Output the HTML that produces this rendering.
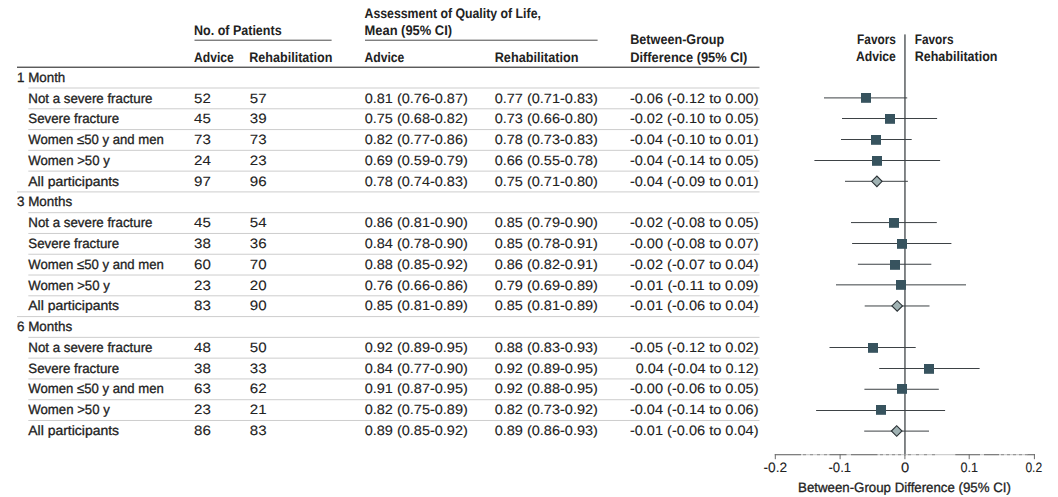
<!DOCTYPE html>
<html><head><meta charset="utf-8"><title>Forest plot</title>
<style>html,body{margin:0;padding:0;background:#fff}svg{display:block}.n{stroke:#222;stroke-width:.3px}.d{stroke:#222;stroke-width:.1px}</style></head>
<body>
<svg width="1058" height="497" viewBox="0 0 1058 497" font-family="'Liberation Sans', sans-serif" fill="#222" text-rendering="geometricPrecision">
<rect width="1058" height="497" fill="#fff"/>
<text x="194.0" y="34.8" font-size="13.8" font-weight="bold" textLength="87.6" lengthAdjust="spacingAndGlyphs">No. of Patients</text>
<text x="364.5" y="17.6" font-size="13.8" font-weight="bold" textLength="176.4" lengthAdjust="spacingAndGlyphs">Assessment of Quality of Life,</text>
<text x="364.5" y="34.8" font-size="13.8" font-weight="bold" textLength="87.6" lengthAdjust="spacingAndGlyphs">Mean (95% CI)</text>
<text x="194.0" y="61.6" font-size="13.8" font-weight="bold" textLength="39.8" lengthAdjust="spacingAndGlyphs">Advice</text>
<text x="249.3" y="61.6" font-size="13.8" font-weight="bold" textLength="83.1" lengthAdjust="spacingAndGlyphs">Rehabilitation</text>
<text x="364.5" y="61.6" font-size="13.8" font-weight="bold" textLength="39.8" lengthAdjust="spacingAndGlyphs">Advice</text>
<text x="494.7" y="61.6" font-size="13.8" font-weight="bold" textLength="83.8" lengthAdjust="spacingAndGlyphs">Rehabilitation</text>
<text x="630.2" y="43.6" font-size="13.8" font-weight="bold" textLength="94.1" lengthAdjust="spacingAndGlyphs">Between-Group</text>
<text x="630.2" y="61.6" font-size="13.8" font-weight="bold" textLength="117.2" lengthAdjust="spacingAndGlyphs">Difference (95% CI)</text>
<text x="857.1" y="43.6" font-size="13.8" font-weight="bold" textLength="38.8" lengthAdjust="spacingAndGlyphs">Favors</text>
<text x="855.9" y="60.9" font-size="13.8" font-weight="bold" textLength="40.0" lengthAdjust="spacingAndGlyphs">Advice</text>
<text x="914.7" y="43.6" font-size="13.8" font-weight="bold" textLength="38.8" lengthAdjust="spacingAndGlyphs">Favors</text>
<text x="914.7" y="60.9" font-size="13.8" font-weight="bold" textLength="82.8" lengthAdjust="spacingAndGlyphs">Rehabilitation</text>
<rect x="194.5" y="39.7" width="137.1" height="1" fill="#4a4a4a"/>
<rect x="365" y="39.7" width="232.6" height="1" fill="#4a4a4a"/>
<rect x="17" y="66.6" width="742.5" height="1.3" fill="#4a4a4a"/>
<rect x="28.3" y="87.50" width="731.2" height="1" fill="#cecece"/>
<rect x="28.3" y="108.28" width="731.2" height="1" fill="#cecece"/>
<rect x="28.3" y="129.06" width="731.2" height="1" fill="#cecece"/>
<rect x="28.3" y="149.84" width="731.2" height="1" fill="#cecece"/>
<rect x="28.3" y="170.62" width="731.2" height="1" fill="#cecece"/>
<rect x="17" y="191.40" width="742.5" height="1" fill="#cecece"/>
<rect x="28.3" y="212.18" width="731.2" height="1" fill="#cecece"/>
<rect x="28.3" y="232.96" width="731.2" height="1" fill="#cecece"/>
<rect x="28.3" y="253.74" width="731.2" height="1" fill="#cecece"/>
<rect x="28.3" y="274.52" width="731.2" height="1" fill="#cecece"/>
<rect x="28.3" y="295.30" width="731.2" height="1" fill="#cecece"/>
<rect x="17" y="316.08" width="742.5" height="1" fill="#cecece"/>
<rect x="28.3" y="336.86" width="731.2" height="1" fill="#cecece"/>
<rect x="28.3" y="357.64" width="731.2" height="1" fill="#cecece"/>
<rect x="28.3" y="378.42" width="731.2" height="1" fill="#cecece"/>
<rect x="28.3" y="399.20" width="731.2" height="1" fill="#cecece"/>
<rect x="28.3" y="419.98" width="731.2" height="1" fill="#cecece"/>
<text x="17.0" y="81.7" font-size="13.5" class="n" textLength="48.3" lengthAdjust="spacingAndGlyphs">1 Month</text>
<text x="28.3" y="102.5" font-size="13.5" class="n" textLength="124.2" lengthAdjust="spacingAndGlyphs">Not a severe fracture</text>
<text x="194.1" y="102.5" font-size="13.5" class="d" textLength="16.8" lengthAdjust="spacingAndGlyphs">52</text>
<text x="249.8" y="102.5" font-size="13.5" class="d" textLength="16.8" lengthAdjust="spacingAndGlyphs">57</text>
<text x="364.7" y="102.5" font-size="13.5" class="d" textLength="103.1" lengthAdjust="spacingAndGlyphs">0.81 (0.76-0.87)</text>
<text x="494.7" y="102.5" font-size="13.5" class="d" textLength="103.2" lengthAdjust="spacingAndGlyphs">0.77 (0.71-0.83)</text>
<text x="758.5" y="102.5" font-size="13.5" class="d" text-anchor="end" textLength="128.6" lengthAdjust="spacingAndGlyphs">-0.06 (-0.12 to 0.00)</text>
<text x="28.3" y="123.3" font-size="13.5" class="n" textLength="90.8" lengthAdjust="spacingAndGlyphs">Severe fracture</text>
<text x="194.1" y="123.3" font-size="13.5" class="d" textLength="16.8" lengthAdjust="spacingAndGlyphs">45</text>
<text x="249.8" y="123.3" font-size="13.5" class="d" textLength="16.8" lengthAdjust="spacingAndGlyphs">39</text>
<text x="364.7" y="123.3" font-size="13.5" class="d" textLength="103.1" lengthAdjust="spacingAndGlyphs">0.75 (0.68-0.82)</text>
<text x="494.7" y="123.3" font-size="13.5" class="d" textLength="103.2" lengthAdjust="spacingAndGlyphs">0.73 (0.66-0.80)</text>
<text x="758.5" y="123.3" font-size="13.5" class="d" text-anchor="end" textLength="128.6" lengthAdjust="spacingAndGlyphs">-0.02 (-0.10 to 0.05)</text>
<text x="28.3" y="144.0" font-size="13.5" class="n" textLength="135.6" lengthAdjust="spacingAndGlyphs">Women ≤50 y and men</text>
<text x="194.1" y="144.0" font-size="13.5" class="d" textLength="16.8" lengthAdjust="spacingAndGlyphs">73</text>
<text x="249.8" y="144.0" font-size="13.5" class="d" textLength="16.8" lengthAdjust="spacingAndGlyphs">73</text>
<text x="364.7" y="144.0" font-size="13.5" class="d" textLength="103.1" lengthAdjust="spacingAndGlyphs">0.82 (0.77-0.86)</text>
<text x="494.7" y="144.0" font-size="13.5" class="d" textLength="103.2" lengthAdjust="spacingAndGlyphs">0.78 (0.73-0.83)</text>
<text x="758.5" y="144.0" font-size="13.5" class="d" text-anchor="end" textLength="128.6" lengthAdjust="spacingAndGlyphs">-0.04 (-0.10 to 0.01)</text>
<text x="28.3" y="164.8" font-size="13.5" class="n" textLength="81.5" lengthAdjust="spacingAndGlyphs">Women &gt;50 y</text>
<text x="194.1" y="164.8" font-size="13.5" class="d" textLength="16.8" lengthAdjust="spacingAndGlyphs">24</text>
<text x="249.8" y="164.8" font-size="13.5" class="d" textLength="16.8" lengthAdjust="spacingAndGlyphs">23</text>
<text x="364.7" y="164.8" font-size="13.5" class="d" textLength="103.1" lengthAdjust="spacingAndGlyphs">0.69 (0.59-0.79)</text>
<text x="494.7" y="164.8" font-size="13.5" class="d" textLength="103.2" lengthAdjust="spacingAndGlyphs">0.66 (0.55-0.78)</text>
<text x="758.5" y="164.8" font-size="13.5" class="d" text-anchor="end" textLength="128.6" lengthAdjust="spacingAndGlyphs">-0.04 (-0.14 to 0.05)</text>
<text x="28.3" y="185.6" font-size="13.5" class="n" textLength="90.8" lengthAdjust="spacingAndGlyphs">All participants</text>
<text x="194.1" y="185.6" font-size="13.5" class="d" textLength="16.8" lengthAdjust="spacingAndGlyphs">97</text>
<text x="249.8" y="185.6" font-size="13.5" class="d" textLength="16.8" lengthAdjust="spacingAndGlyphs">96</text>
<text x="364.7" y="185.6" font-size="13.5" class="d" textLength="103.1" lengthAdjust="spacingAndGlyphs">0.78 (0.74-0.83)</text>
<text x="494.7" y="185.6" font-size="13.5" class="d" textLength="103.2" lengthAdjust="spacingAndGlyphs">0.75 (0.71-0.80)</text>
<text x="758.5" y="185.6" font-size="13.5" class="d" text-anchor="end" textLength="128.6" lengthAdjust="spacingAndGlyphs">-0.04 (-0.09 to 0.01)</text>
<text x="17.0" y="206.4" font-size="13.5" class="n" textLength="55.2" lengthAdjust="spacingAndGlyphs">3 Months</text>
<text x="28.3" y="227.2" font-size="13.5" class="n" textLength="124.2" lengthAdjust="spacingAndGlyphs">Not a severe fracture</text>
<text x="194.1" y="227.2" font-size="13.5" class="d" textLength="16.8" lengthAdjust="spacingAndGlyphs">45</text>
<text x="249.8" y="227.2" font-size="13.5" class="d" textLength="16.8" lengthAdjust="spacingAndGlyphs">54</text>
<text x="364.7" y="227.2" font-size="13.5" class="d" textLength="103.1" lengthAdjust="spacingAndGlyphs">0.86 (0.81-0.90)</text>
<text x="494.7" y="227.2" font-size="13.5" class="d" textLength="103.2" lengthAdjust="spacingAndGlyphs">0.85 (0.79-0.90)</text>
<text x="758.5" y="227.2" font-size="13.5" class="d" text-anchor="end" textLength="128.6" lengthAdjust="spacingAndGlyphs">-0.02 (-0.08 to 0.05)</text>
<text x="28.3" y="247.9" font-size="13.5" class="n" textLength="90.8" lengthAdjust="spacingAndGlyphs">Severe fracture</text>
<text x="194.1" y="247.9" font-size="13.5" class="d" textLength="16.8" lengthAdjust="spacingAndGlyphs">38</text>
<text x="249.8" y="247.9" font-size="13.5" class="d" textLength="16.8" lengthAdjust="spacingAndGlyphs">36</text>
<text x="364.7" y="247.9" font-size="13.5" class="d" textLength="103.1" lengthAdjust="spacingAndGlyphs">0.84 (0.78-0.90)</text>
<text x="494.7" y="247.9" font-size="13.5" class="d" textLength="103.2" lengthAdjust="spacingAndGlyphs">0.85 (0.78-0.91)</text>
<text x="758.5" y="247.9" font-size="13.5" class="d" text-anchor="end" textLength="128.6" lengthAdjust="spacingAndGlyphs">-0.00 (-0.08 to 0.07)</text>
<text x="28.3" y="268.7" font-size="13.5" class="n" textLength="135.6" lengthAdjust="spacingAndGlyphs">Women ≤50 y and men</text>
<text x="194.1" y="268.7" font-size="13.5" class="d" textLength="16.8" lengthAdjust="spacingAndGlyphs">60</text>
<text x="249.8" y="268.7" font-size="13.5" class="d" textLength="16.8" lengthAdjust="spacingAndGlyphs">70</text>
<text x="364.7" y="268.7" font-size="13.5" class="d" textLength="103.1" lengthAdjust="spacingAndGlyphs">0.88 (0.85-0.92)</text>
<text x="494.7" y="268.7" font-size="13.5" class="d" textLength="103.2" lengthAdjust="spacingAndGlyphs">0.86 (0.82-0.91)</text>
<text x="758.5" y="268.7" font-size="13.5" class="d" text-anchor="end" textLength="128.6" lengthAdjust="spacingAndGlyphs">-0.02 (-0.07 to 0.04)</text>
<text x="28.3" y="289.5" font-size="13.5" class="n" textLength="81.5" lengthAdjust="spacingAndGlyphs">Women &gt;50 y</text>
<text x="194.1" y="289.5" font-size="13.5" class="d" textLength="16.8" lengthAdjust="spacingAndGlyphs">23</text>
<text x="249.8" y="289.5" font-size="13.5" class="d" textLength="16.8" lengthAdjust="spacingAndGlyphs">20</text>
<text x="364.7" y="289.5" font-size="13.5" class="d" textLength="103.1" lengthAdjust="spacingAndGlyphs">0.76 (0.66-0.86)</text>
<text x="494.7" y="289.5" font-size="13.5" class="d" textLength="103.2" lengthAdjust="spacingAndGlyphs">0.79 (0.69-0.89)</text>
<text x="758.5" y="289.5" font-size="13.5" class="d" text-anchor="end" textLength="128.6" lengthAdjust="spacingAndGlyphs">-0.01 (-0.11 to 0.09)</text>
<text x="28.3" y="310.3" font-size="13.5" class="n" textLength="90.8" lengthAdjust="spacingAndGlyphs">All participants</text>
<text x="194.1" y="310.3" font-size="13.5" class="d" textLength="16.8" lengthAdjust="spacingAndGlyphs">83</text>
<text x="249.8" y="310.3" font-size="13.5" class="d" textLength="16.8" lengthAdjust="spacingAndGlyphs">90</text>
<text x="364.7" y="310.3" font-size="13.5" class="d" textLength="103.1" lengthAdjust="spacingAndGlyphs">0.85 (0.81-0.89)</text>
<text x="494.7" y="310.3" font-size="13.5" class="d" textLength="103.2" lengthAdjust="spacingAndGlyphs">0.85 (0.81-0.89)</text>
<text x="758.5" y="310.3" font-size="13.5" class="d" text-anchor="end" textLength="128.6" lengthAdjust="spacingAndGlyphs">-0.01 (-0.06 to 0.04)</text>
<text x="17.0" y="331.1" font-size="13.5" class="n" textLength="55.2" lengthAdjust="spacingAndGlyphs">6 Months</text>
<text x="28.3" y="351.8" font-size="13.5" class="n" textLength="124.2" lengthAdjust="spacingAndGlyphs">Not a severe fracture</text>
<text x="194.1" y="351.8" font-size="13.5" class="d" textLength="16.8" lengthAdjust="spacingAndGlyphs">48</text>
<text x="249.8" y="351.8" font-size="13.5" class="d" textLength="16.8" lengthAdjust="spacingAndGlyphs">50</text>
<text x="364.7" y="351.8" font-size="13.5" class="d" textLength="103.1" lengthAdjust="spacingAndGlyphs">0.92 (0.89-0.95)</text>
<text x="494.7" y="351.8" font-size="13.5" class="d" textLength="103.2" lengthAdjust="spacingAndGlyphs">0.88 (0.83-0.93)</text>
<text x="758.5" y="351.8" font-size="13.5" class="d" text-anchor="end" textLength="128.6" lengthAdjust="spacingAndGlyphs">-0.05 (-0.12 to 0.02)</text>
<text x="28.3" y="372.6" font-size="13.5" class="n" textLength="90.8" lengthAdjust="spacingAndGlyphs">Severe fracture</text>
<text x="194.1" y="372.6" font-size="13.5" class="d" textLength="16.8" lengthAdjust="spacingAndGlyphs">38</text>
<text x="249.8" y="372.6" font-size="13.5" class="d" textLength="16.8" lengthAdjust="spacingAndGlyphs">33</text>
<text x="364.7" y="372.6" font-size="13.5" class="d" textLength="103.1" lengthAdjust="spacingAndGlyphs">0.84 (0.77-0.90)</text>
<text x="494.7" y="372.6" font-size="13.5" class="d" textLength="103.2" lengthAdjust="spacingAndGlyphs">0.92 (0.89-0.95)</text>
<text x="758.5" y="372.6" font-size="13.5" class="d" text-anchor="end" textLength="122.8" lengthAdjust="spacingAndGlyphs">0.04 (-0.04 to 0.12)</text>
<text x="28.3" y="393.4" font-size="13.5" class="n" textLength="135.6" lengthAdjust="spacingAndGlyphs">Women ≤50 y and men</text>
<text x="194.1" y="393.4" font-size="13.5" class="d" textLength="16.8" lengthAdjust="spacingAndGlyphs">63</text>
<text x="249.8" y="393.4" font-size="13.5" class="d" textLength="16.8" lengthAdjust="spacingAndGlyphs">62</text>
<text x="364.7" y="393.4" font-size="13.5" class="d" textLength="103.1" lengthAdjust="spacingAndGlyphs">0.91 (0.87-0.95)</text>
<text x="494.7" y="393.4" font-size="13.5" class="d" textLength="103.2" lengthAdjust="spacingAndGlyphs">0.92 (0.88-0.95)</text>
<text x="758.5" y="393.4" font-size="13.5" class="d" text-anchor="end" textLength="128.6" lengthAdjust="spacingAndGlyphs">-0.00 (-0.06 to 0.05)</text>
<text x="28.3" y="414.2" font-size="13.5" class="n" textLength="81.5" lengthAdjust="spacingAndGlyphs">Women &gt;50 y</text>
<text x="194.1" y="414.2" font-size="13.5" class="d" textLength="16.8" lengthAdjust="spacingAndGlyphs">23</text>
<text x="249.8" y="414.2" font-size="13.5" class="d" textLength="16.8" lengthAdjust="spacingAndGlyphs">21</text>
<text x="364.7" y="414.2" font-size="13.5" class="d" textLength="103.1" lengthAdjust="spacingAndGlyphs">0.82 (0.75-0.89)</text>
<text x="494.7" y="414.2" font-size="13.5" class="d" textLength="103.2" lengthAdjust="spacingAndGlyphs">0.82 (0.73-0.92)</text>
<text x="758.5" y="414.2" font-size="13.5" class="d" text-anchor="end" textLength="128.6" lengthAdjust="spacingAndGlyphs">-0.04 (-0.14 to 0.06)</text>
<text x="28.3" y="435.0" font-size="13.5" class="n" textLength="90.8" lengthAdjust="spacingAndGlyphs">All participants</text>
<text x="194.1" y="435.0" font-size="13.5" class="d" textLength="16.8" lengthAdjust="spacingAndGlyphs">86</text>
<text x="249.8" y="435.0" font-size="13.5" class="d" textLength="16.8" lengthAdjust="spacingAndGlyphs">83</text>
<text x="364.7" y="435.0" font-size="13.5" class="d" textLength="103.1" lengthAdjust="spacingAndGlyphs">0.89 (0.85-0.92)</text>
<text x="494.7" y="435.0" font-size="13.5" class="d" textLength="103.2" lengthAdjust="spacingAndGlyphs">0.89 (0.86-0.93)</text>
<text x="758.5" y="435.0" font-size="13.5" class="d" text-anchor="end" textLength="128.6" lengthAdjust="spacingAndGlyphs">-0.01 (-0.06 to 0.04)</text>
<rect x="904.2" y="34.4" width="1.5" height="421" fill="#5a5f62"/>
<rect x="824.0" y="97.4" width="83.2" height="1" fill="#3d4245"/>
<rect x="861" y="93" width="10" height="9.8" fill="#37535e"/>
<rect x="842.0" y="118" width="95.1" height="1" fill="#3d4245"/>
<rect x="885" y="114" width="10" height="9.8" fill="#37535e"/>
<rect x="841.0" y="139" width="70.7" height="1" fill="#3d4245"/>
<rect x="871" y="135" width="10" height="9.8" fill="#37535e"/>
<rect x="814.4" y="160" width="125.7" height="1" fill="#3d4245"/>
<rect x="872" y="156" width="10" height="9.8" fill="#37535e"/>
<rect x="845.0" y="180.8" width="62.9" height="1" fill="#3d4245"/>
<path d="M871.6 181.35L876.9 176.05L882.1 181.35L876.9 186.65Z" fill="#a0b2b3" stroke="#2b3236" stroke-width="1.1"/>
<rect x="851.0" y="222.07" width="85.8" height="1" fill="#3d4245"/>
<rect x="889" y="218" width="10" height="9.8" fill="#37535e"/>
<rect x="852.1" y="243" width="99.3" height="1" fill="#3d4245"/>
<rect x="897" y="239" width="10" height="9.8" fill="#37535e"/>
<rect x="857.9" y="263.75" width="73.4" height="1" fill="#3d4245"/>
<rect x="890" y="260" width="10" height="9.8" fill="#37535e"/>
<rect x="836.0" y="284.35" width="130.0" height="1" fill="#3d4245"/>
<rect x="896" y="280" width="10" height="9.8" fill="#37535e"/>
<rect x="864.7" y="305.47" width="64.8" height="1" fill="#3d4245"/>
<path d="M891.9 305.96L897.2 300.66L902.5 305.96L897.2 311.26Z" fill="#a0b2b3" stroke="#2b3236" stroke-width="1.1"/>
<rect x="829.5" y="347" width="86.2" height="1" fill="#3d4245"/>
<rect x="868" y="343" width="10" height="9.8" fill="#37535e"/>
<rect x="879.2" y="368" width="100.4" height="1" fill="#3d4245"/>
<rect x="924" y="364" width="10" height="9.8" fill="#37535e"/>
<rect x="864.4" y="388.76" width="74.4" height="1" fill="#3d4245"/>
<rect x="897" y="384" width="10" height="9.8" fill="#37535e"/>
<rect x="816.1" y="410" width="129.0" height="1" fill="#3d4245"/>
<rect x="876" y="405" width="10" height="9.8" fill="#37535e"/>
<rect x="864.2" y="430.6" width="64.8" height="1" fill="#3d4245"/>
<path d="M891.4 431.00L896.7 425.70L902.0 431.00L896.7 436.30Z" fill="#a0b2b3" stroke="#2b3236" stroke-width="1.1"/>
<rect x="774.8" y="454.2" width="260.2" height="1" fill="#c4c4c4"/>
<rect x="774.8" y="454.2" width="26.2" height="1" fill="#6b6b6b"/>
<rect x="829.5" y="454.2" width="17.0" height="1" fill="#6b6b6b"/>
<rect x="851" y="454.2" width="26.5" height="1" fill="#6b6b6b"/>
<rect x="955.3" y="454.2" width="24.7" height="1" fill="#6b6b6b"/>
<rect x="984" y="454.2" width="15.0" height="1" fill="#6b6b6b"/>
<rect x="1027.6" y="454.2" width="7.4" height="1" fill="#6b6b6b"/>
<rect x="803" y="454.2" width="3" height="1" fill="#8a8a8a"/>
<rect x="810" y="454.2" width="3" height="1" fill="#8a8a8a"/>
<rect x="817" y="454.2" width="3" height="1" fill="#8a8a8a"/>
<rect x="824" y="454.2" width="3" height="1" fill="#8a8a8a"/>
<rect x="880" y="454.2" width="3" height="1" fill="#8a8a8a"/>
<rect x="886" y="454.2" width="3" height="1" fill="#8a8a8a"/>
<rect x="892" y="454.2" width="3" height="1" fill="#8a8a8a"/>
<rect x="898" y="454.2" width="3" height="1" fill="#8a8a8a"/>
<rect x="908" y="454.2" width="3" height="1" fill="#8a8a8a"/>
<rect x="916" y="454.2" width="3" height="1" fill="#8a8a8a"/>
<rect x="924" y="454.2" width="3" height="1" fill="#8a8a8a"/>
<rect x="932" y="454.2" width="3" height="1" fill="#8a8a8a"/>
<rect x="1001" y="454.2" width="3" height="1" fill="#8a8a8a"/>
<rect x="1007" y="454.2" width="3" height="1" fill="#8a8a8a"/>
<rect x="1013" y="454.2" width="3" height="1" fill="#8a8a8a"/>
<rect x="1019" y="454.2" width="3" height="1" fill="#8a8a8a"/>
<rect x="1025" y="454.2" width="3" height="1" fill="#8a8a8a"/>
<rect x="774.8" y="454.2" width="1" height="5" fill="#6b6b6b"/>
<rect x="839.6" y="454.2" width="1" height="5" fill="#6b6b6b"/>
<rect x="904.4" y="454.2" width="1" height="5" fill="#6b6b6b"/>
<rect x="968.7" y="454.2" width="1" height="5" fill="#6b6b6b"/>
<rect x="1033.9" y="454.2" width="1" height="5" fill="#6b6b6b"/>
<text x="763.5" y="472.4" font-size="13.5" class="d" textLength="23.6" lengthAdjust="spacingAndGlyphs">-0.2</text>
<text x="828.5" y="472.4" font-size="13.5" class="d" textLength="22.6" lengthAdjust="spacingAndGlyphs">-0.1</text>
<text x="901.0" y="472.4" font-size="13.5" class="d" textLength="8.2" lengthAdjust="spacingAndGlyphs">0</text>
<text x="960.5" y="472.4" font-size="13.5" class="d" textLength="17.6" lengthAdjust="spacingAndGlyphs">0.1</text>
<text x="1025.4" y="472.4" font-size="13.5" class="d" textLength="16.8" lengthAdjust="spacingAndGlyphs">0.2</text>
<text x="798.1" y="492.0" font-size="13.5" class="n" textLength="212.8" lengthAdjust="spacingAndGlyphs">Between-Group Difference (95% CI)</text>
</svg>
</body></html>
